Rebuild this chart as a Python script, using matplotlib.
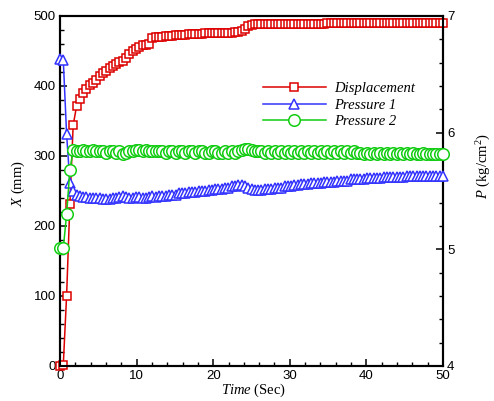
import matplotlib
matplotlib.use("Agg")
import matplotlib.pyplot as plt
from matplotlib.ticker import MultipleLocator

plt.rcParams['mathtext.fontset'] = 'custom'
plt.rcParams['mathtext.it'] = 'Liberation Serif:italic'
plt.rcParams['mathtext.rm'] = 'Liberation Serif'

time = [0.00, 0.43, 0.86, 1.29, 1.72, 2.16, 2.59, 3.02, 3.45, 3.88,
        4.31, 4.74, 5.17, 5.60, 6.03, 6.47, 6.90, 7.33, 7.76, 8.19,
        8.62, 9.05, 9.48, 9.91, 10.34, 10.78, 11.21, 11.64, 12.07, 12.50,
        12.93, 13.36, 13.79, 14.22, 14.66, 15.09, 15.52, 15.95, 16.38, 16.81,
        17.24, 17.67, 18.10, 18.53, 18.97, 19.40, 19.83, 20.26, 20.69, 21.12,
        21.55, 21.98, 22.41, 22.84, 23.28, 23.71, 24.14, 24.57, 25.00, 25.43,
        25.86, 26.29, 26.72, 27.16, 27.59, 28.02, 28.45, 28.88, 29.31, 29.74,
        30.17, 30.60, 31.03, 31.47, 31.90, 32.33, 32.76, 33.19, 33.62, 34.05,
        34.48, 34.91, 35.34, 35.78, 36.21, 36.64, 37.07, 37.50, 37.93, 38.36,
        38.79, 39.22, 39.66, 40.09, 40.52, 40.95, 41.38, 41.81, 42.24, 42.67,
        43.10, 43.53, 43.97, 44.40, 44.83, 45.26, 45.69, 46.12, 46.55, 46.98,
        47.41, 47.84, 48.28, 48.71, 49.14, 49.57, 50.00]

displacement = [0, 2, 100, 232, 344, 371, 382, 390, 396, 401,
                405, 409, 414, 418, 422, 426, 429, 432, 434, 436,
                440, 446, 450, 453, 456, 458, 459, 460, 468, 470,
                470, 470, 471, 472, 472, 473, 473, 473, 473, 474,
                474, 474, 474, 474, 475, 475, 475, 475, 475, 476,
                476, 476, 476, 477, 477, 479, 482, 485, 487, 488,
                489, 489, 489, 489, 489, 489, 489, 489, 489, 489,
                489, 489, 489, 489, 489, 489, 489, 489, 489, 489,
                489, 489.5, 489.5, 489.5, 489.5, 489.5, 489.5, 489.5, 489.5, 489.5,
                489.5, 489.5, 489.5, 489.5, 489.5, 489.5, 489.5, 489.5, 489.5, 489.5,
                489.5, 490, 490, 490, 490, 490, 490, 490, 490, 490,
                490, 490, 490, 490, 490, 490, 490]

pressure1 = [6.63, 6.62, 5.99, 5.57, 5.50, 5.47, 5.46, 5.45, 5.45, 5.44,
             5.44, 5.44, 5.44, 5.43, 5.43, 5.43, 5.44, 5.44, 5.45, 5.46,
             5.45, 5.44, 5.44, 5.45, 5.45, 5.44, 5.44, 5.45, 5.46, 5.45,
             5.46, 5.46, 5.46, 5.47, 5.47, 5.47, 5.48, 5.48, 5.48, 5.49,
             5.49, 5.49, 5.50, 5.50, 5.50, 5.51, 5.51, 5.52, 5.52, 5.52,
             5.53, 5.53, 5.54, 5.54, 5.55, 5.55, 5.54, 5.53, 5.52, 5.51,
             5.51, 5.51, 5.52, 5.52, 5.52, 5.53, 5.53, 5.53, 5.54, 5.54,
             5.54, 5.55, 5.55, 5.56, 5.56, 5.56, 5.57, 5.57, 5.57, 5.57,
             5.58, 5.58, 5.58, 5.58, 5.59, 5.59, 5.59, 5.59, 5.60, 5.60,
             5.60, 5.60, 5.60, 5.61, 5.61, 5.61, 5.61, 5.61, 5.62, 5.62,
             5.62, 5.62, 5.62, 5.62, 5.62, 5.63, 5.63, 5.63, 5.63, 5.63,
             5.63, 5.63, 5.63, 5.63, 5.63, 5.63, 5.63]

pressure2 = [5.01, 5.01, 5.30, 5.68, 5.85, 5.84, 5.84, 5.85, 5.84, 5.84,
             5.85, 5.84, 5.84, 5.84, 5.83, 5.84, 5.84, 5.83, 5.84, 5.82,
             5.83, 5.84, 5.84, 5.85, 5.85, 5.84, 5.85, 5.84, 5.84, 5.84,
             5.84, 5.84, 5.83, 5.84, 5.84, 5.83, 5.84, 5.84, 5.83, 5.84,
             5.84, 5.83, 5.84, 5.84, 5.83, 5.83, 5.84, 5.84, 5.83, 5.83,
             5.84, 5.83, 5.84, 5.83, 5.84, 5.85, 5.86, 5.86, 5.85, 5.84,
             5.84, 5.84, 5.83, 5.84, 5.83, 5.84, 5.83, 5.84, 5.83, 5.84,
             5.83, 5.84, 5.83, 5.84, 5.83, 5.84, 5.83, 5.84, 5.83, 5.84,
             5.83, 5.84, 5.83, 5.84, 5.83, 5.84, 5.83, 5.84, 5.83, 5.84,
             5.83, 5.83, 5.82, 5.83, 5.82, 5.83, 5.82, 5.83, 5.82, 5.83,
             5.82, 5.83, 5.82, 5.83, 5.82, 5.83, 5.82, 5.83, 5.82, 5.82,
             5.83, 5.82, 5.82, 5.82, 5.82, 5.82, 5.82]

x_ticks = [0, 10, 20, 30, 40, 50]
left_ticks = [0, 100, 200, 300, 400, 500]
right_ticks = [4, 5, 6, 7]

RED = '#dd0000'
BLUE = '#3333ff'
GREEN = '#11cc11'

fig = plt.figure(figsize=(4.94, 4.01), dpi=100)
ax = fig.add_axes([60/494, 1 - 366/401, 383/494, 350/401])
ax2 = ax.twinx()

l1, = ax.plot(time, displacement, color=RED, lw=1.1, marker='s', ms=6.3,
              mfc='white', mec=RED, mew=1.1, clip_on=False, zorder=3)
l2, = ax2.plot(time, pressure1, color=BLUE, lw=1.1, marker='^', ms=7,
               mfc='white', mec=BLUE, mew=1.1, clip_on=False, zorder=3)
l3, = ax2.plot(time, pressure2, color=GREEN, lw=1.1, marker='o', ms=8.3,
               mfc='white', mec=GREEN, mew=1.1, clip_on=False, zorder=4)

ax.set_xlim(0, 50)
ax.set_ylim(0, 500)
ax2.set_ylim(4, 7)
ax.set_xticks(x_ticks)
ax.set_yticks(left_ticks)
ax2.set_yticks(right_ticks)
ax.xaxis.set_minor_locator(MultipleLocator(2))
ax.yaxis.set_minor_locator(MultipleLocator(20))
ax2.yaxis.set_minor_locator(MultipleLocator(0.2))

tickfont = 'Liberation Sans'
for a in (ax, ax2):
    a.tick_params(which='major', direction='in', length=5, width=1.1,
                  labelsize=9.5, pad=3)
    a.tick_params(which='minor', direction='in', length=3, width=1.0)
    for lab in a.get_xticklabels() + a.get_yticklabels():
        lab.set_fontfamily(tickfont)
    for s in a.spines.values():
        s.set_linewidth(1.5)
ax.tick_params(which='both', top=False, right=False)
ax2.tick_params(which='both', top=False, left=False)

ax.set_xlabel(r'$Time$ (Sec)', fontfamily='Liberation Serif', fontsize=10.5)
ax.set_ylabel(r'$X$ (mm)', fontfamily='Liberation Serif', fontsize=10.5)
ax2.set_ylabel(r'$P$ (kg/cm$^{2}$)', fontfamily='Liberation Serif', fontsize=10.5)
ax.xaxis.set_label_coords(0.506, -0.045)
ax.yaxis.set_label_coords(-0.086, 0.52)
ax2.yaxis.set_label_coords(1.084, 0.57)

leg = ax2.legend([l1, l2, l3], ['Displacement', 'Pressure 1', 'Pressure 2'],
                 loc='upper left', bbox_to_anchor=(263/494, 1 - 82/401),
                 bbox_transform=fig.transFigure, frameon=False,
                 borderpad=0, borderaxespad=0, handlelength=4.3,
                 handletextpad=0.55, labelspacing=0.22,
                 prop={'family': 'Liberation Serif', 'style': 'italic', 'size': 10.5})

fig.savefig('out.png', dpi=100)
